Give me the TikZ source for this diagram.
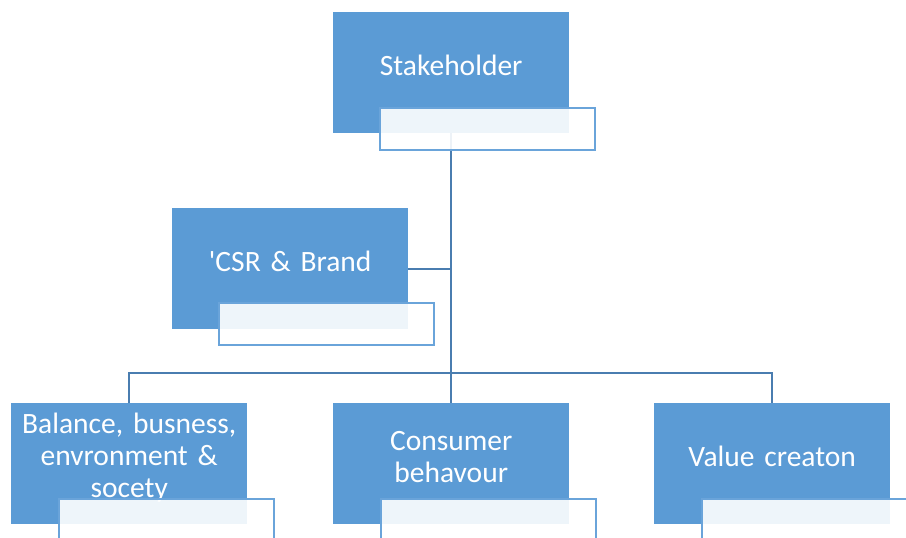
\documentclass[tikz,border=0pt]{standalone}
\usepackage{fontspec}
\setmainfont[WordSpace=0.8]{Carlito}
\definecolor{boxblue}{HTML}{5B9BD5}
\definecolor{linkblue}{HTML}{4A7DB0}
\definecolor{edgeblue}{HTML}{6AA4DA}
\begin{document}
\begin{tikzpicture}[x=1pt,y=-1pt,
  bluebox/.style={draw=none,fill=boxblue,minimum width=236pt,minimum height=121pt,inner sep=0pt,anchor=north west},
  overlaybox/.style={draw=edgeblue,line width=1.6pt,fill=white,fill opacity=0.9,minimum width=215pt,minimum height=42pt,inner sep=0pt,anchor=north west},
  boxtext/.style={text=white,font=\fontsize{29.5}{32}\selectfont,align=center,text width=234pt,inner sep=0pt},
  link/.style={draw=linkblue,line width=1.8pt}]
\clip (0,0) rectangle (906,538);
% boxes
\node[bluebox] (top) at (333,12) {};
\node[bluebox] (csr) at (172,208) {};
\node[bluebox] (bal) at (11,403) {};
\node[bluebox] (con) at (333,403) {};
\node[bluebox] (val) at (654,403) {};
% connectors
\coordinate (hub) at (top.south |- 0,373);
\coordinate (csrj) at (top.south |- csr.east);
\draw[link] (top.south) -- (hub);
\draw[link] (csr.east) -- (csrj);
\draw[link] (bal.north) |- (hub) -| (val.north);
\draw[link] (hub) -- (con.north);
% texts
\node[boxtext] (ttop) at ([yshift=7pt]top.center) {Stakeholder};
\node[boxtext] (tcsr) at ([yshift=7pt]csr.center) {\textquotesingle CSR \& Brand};
\node[boxtext] (tbal) at ([yshift=6pt]bal.center) {Balance, busness,\\envronment \&\\socety};
\node[boxtext] (tcon) at ([yshift=7pt]con.center) {Consumer\\behavour};
\node[boxtext] (tval) at ([yshift=7pt]val.center) {Value creaton};
% overlays
\node[overlaybox] (otop) at (379,107) {};
\node[overlaybox] (ocsr) at (218,302) {};
\node[overlaybox] (obal) at (58,498) {};
\node[overlaybox] (ocon) at (380,498) {};
\node[overlaybox] (oval) at (701,498) {};
\end{tikzpicture}
\end{document}
